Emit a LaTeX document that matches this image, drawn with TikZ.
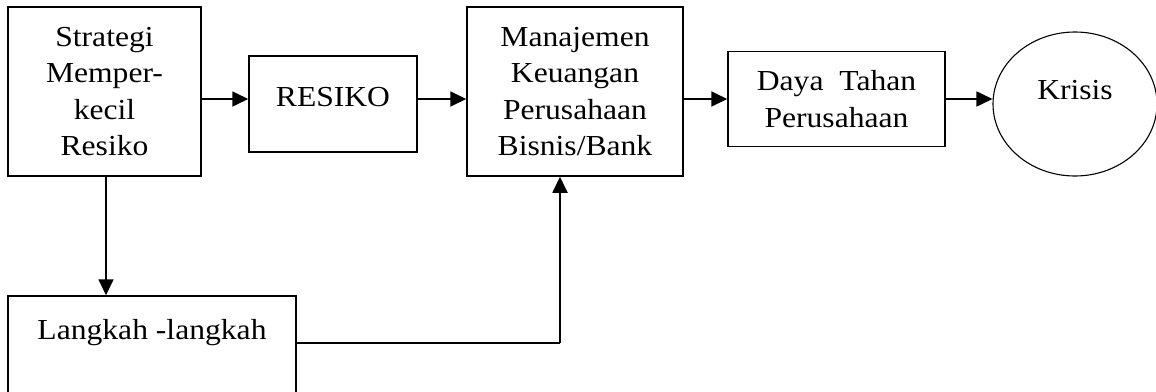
\documentclass[tikz,border=0pt]{standalone}
\usepackage{fontspec}
\setmainfont{Liberation Serif}[FakeStretch=1.09]
\usetikzlibrary{arrows.meta,shapes.geometric}
\begin{document}
\begin{tikzpicture}[x=1pt,y=-1pt,
  box/.style={draw, line width=1.5pt, rectangle, inner sep=0pt, align=center, font=\fontsize{29}{36.5}\selectfont},
  arr/.style={line width=1.8pt, -{Triangle[length=16pt,width=15pt]}},
  ln/.style={line width=1.8pt},
  lbl/.style={font=\fontsize{29}{36.5}\selectfont, anchor=base, inner sep=0pt}]
\useasboundingbox (0,0) rectangle (1156,391);
\clip (0,0) rectangle (1156,391);
\fill[white] (0,0) rectangle (1156,391);
\node[box, minimum width=193pt, minimum height=169pt] (s) at (104.5,91.5) {Strategi\\Memper-\\kecil\\Resiko};
\node[box, minimum width=168pt, minimum height=96pt, label={[lbl,yshift=7pt]center:RESIKO}] (r) at (333,104) {};
\node[box, minimum width=216pt, minimum height=169pt] (m) at (575,91.5) {Manajemen\\Keuangan\\Perusahaan\\Bisnis/Bank};
\node[box, minimum width=217pt, minimum height=95pt] (d) at (836.5,99) {Daya\ \ Tahan\\Perusahaan};
\node[draw, ellipse, line width=1.1pt, minimum width=164pt, minimum height=144pt, inner sep=0pt, label={[lbl,yshift=14pt]center:Krisis}] (k) at (1075,104) {};
\node[box, minimum width=288pt, minimum height=124pt, label={[lbl,yshift=25pt]center:Langkah -langkah}] (l) at (152,358) {};
\coordinate (c) at (560,343);
\draw[arr] (s.east |- d.west) -- (r.west |- d.west);
\draw[arr] (r.east |- d.west) -- (m.west |- d.west);
\draw[arr] (m.east |- d.west) -- (d.west);
\draw[arr] (d.east) -- (d.east -| k.west);
\draw[arr] ([xshift=1.5pt]s.south) -- ([xshift=1.5pt]s.south |- l.north);
\draw[ln] (l.east |- c) -- (c);
\draw[arr] (c) -- (c |- m.south);
\end{tikzpicture}
\end{document}
